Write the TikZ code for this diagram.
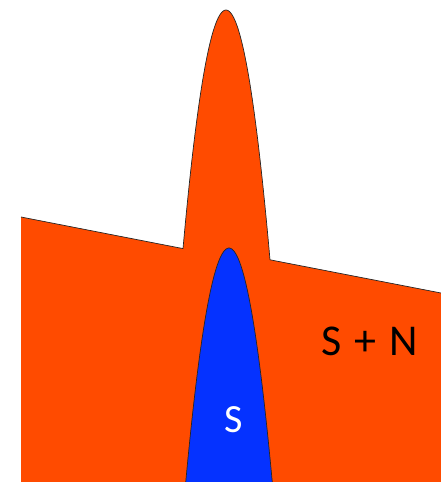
\documentclass[tikz,border=0pt]{standalone}
\usepackage{fontspec}
\setmainfont{Carlito}
\usepackage{tikz}
\definecolor{noiseorange}{RGB}{255,75,0}
\definecolor{signalblue}{RGB}{5,50,255}
\tikzset{
  edgeline/.style={draw=black!85, line width=0.7pt, line join=round},
  peaklabel/.style={font=\fontsize{44}{50}\selectfont, inner sep=0pt}
}
\begin{document}
\begin{tikzpicture}[x=1pt, y=-1pt]
\useasboundingbox (0,0) rectangle (441,482);
% noise + signal
\fill[noiseorange] (21,482) -- (21,217)
  -- plot[domain=183:270, samples=80] (\x, {10+(\x-226)^2/7.75})
  -- (441,293) -- (441,482) -- cycle;
\draw[edgeline] (21,217)
  -- plot[domain=183:270, samples=80] (\x, {10+(\x-226)^2/7.75})
  -- (441,293);
% signal
\filldraw[fill=signalblue, edgeline]
  plot[domain=185.7:272.3, samples=80] (\x, {248+(\x-229)^2/8});
\node[peaklabel, text=black] (sn) at (370,341) {S\hspace{3pt} + \hspace{3pt}N};
\node[peaklabel, text=white, font=\fontsize{40}{46}\selectfont] (s) at (233.5,420) {S};
\end{tikzpicture}
\end{document}
